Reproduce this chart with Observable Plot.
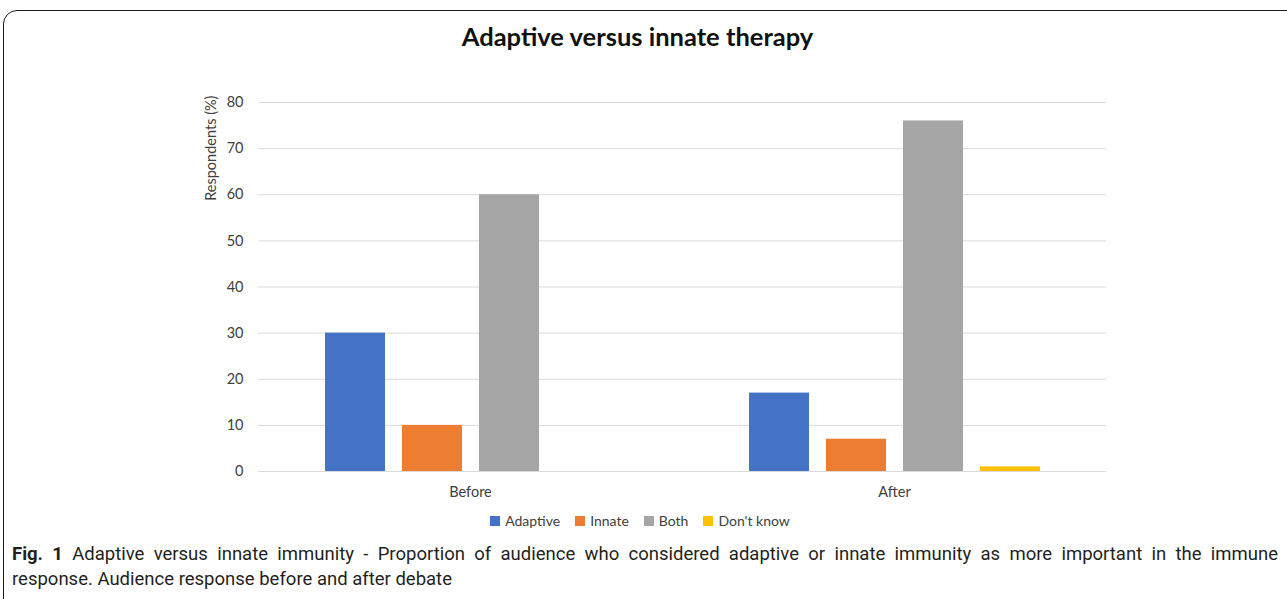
<!DOCTYPE html>
<html>
<head>
<meta charset="utf-8">
<script src="https://cdn.jsdelivr.net/npm/d3@7"></script>
<script src="https://cdn.jsdelivr.net/npm/@observablehq/plot@0.6"></script>
<style>
  html, body { margin: 0; padding: 0; background: #fff; width: 1287px; height: 599px; overflow: hidden; }
  body { position: relative; font-family: Lato, "Open Sans", sans-serif; }
  #frame { position: absolute; left: 3px; top: 10px; width: 1320px; height: 620px; border: 1.5px solid #1a1a1a; border-radius: 14px; box-sizing: border-box; }
  #title { position: absolute; left: 0; width: 1275px; top: 21px; text-align: center; font-family: Lato, sans-serif; font-weight: 700; font-size: 25.5px; color: #111; }
  #chart { position: absolute; left: 0; top: 60px; }
  #legend { position: absolute; left: 0; width: 1280px; top: 512px; display: flex; justify-content: center; font-family: Lato, sans-serif; font-size: 14px; color: #404040; }
  .item { display: flex; align-items: center; margin-right: 15px; }
  .item:last-child { margin-right: 0; }
  .sw { width: 10px; height: 10px; margin-right: 5px; }
  .cap { position: absolute; left: 12px; width: 1266px; font-family: Roboto, sans-serif; font-size: 18.5px; color: #231f20; white-space: nowrap; }
  #cap1 { top: 543px; text-align: justify; text-align-last: justify; }
  #cap2 { top: 568px; }
</style>
</head>
<body>
<div id="frame"></div>
<div id="title">Adaptive versus innate therapy</div>
<div id="chart"></div>
<div id="legend"></div>
<div class="cap" id="cap1"><b>Fig. 1</b> Adaptive versus innate immunity - Proportion of audience who considered adaptive or innate immunity as more important in the immune</div>
<div class="cap" id="cap2">response. Audience response before and after debate</div>
<script>
const groups = ["Before", "After"];
const categories = ["Adaptive", "Innate", "Both", "Don't know"];
const beforeValues = [30, 10, 60, 0];
const afterValues = [17, 7, 76, 1];
const colors = ["#4472C4", "#ED7D31", "#A5A5A5", "#FFC000"];
const yTicks = [0, 10, 20, 30, 40, 50, 60, 70, 80];
const yLabel = "Respondents (%)";

const data = [];
categories.forEach((c, i) => data.push({group: groups[0], cat: c, value: beforeValues[i]}));
categories.forEach((c, i) => data.push({group: groups[1], cat: c, value: afterValues[i]}));

const plot = Plot.plot({
  width: 1287,
  height: 446,
  marginLeft: 258,
  marginRight: 181,
  marginTop: 42,
  marginBottom: 35,
  style: {fontFamily: "Lato, sans-serif", fontSize: "14px", color: "#595959", background: "transparent"},
  fx: {domain: groups, padding: 0, label: null},
  x: {domain: categories, paddingInner: 0.2208, paddingOuter: 0.8636, axis: null},
  y: {domain: [0, 80], label: null},
  color: {domain: categories, range: colors},
  marks: [
    Plot.gridY(yTicks, {stroke: "#d9d9d9", strokeOpacity: 1, strokeWidth: 1}),
    Plot.barY(data, {fx: "group", x: "cat", y: "value", fill: "cat"}),
    Plot.axisY(yTicks, {tickSize: 0, tickPadding: 15, label: null, fill: "#404040", fontSize: 14.5}),
    Plot.axisFx({anchor: "bottom", tickSize: 0, tickPadding: 15, label: null, fill: "#404040", fontSize: 14.5}),
    Plot.text([yLabel], {frameAnchor: "top-left", text: d => d, rotate: -90, textAnchor: "end", dx: -53, dy: -7, fill: "#404040", fontSize: 14.5, facet: "super"})
  ]
});
document.getElementById("chart").appendChild(plot);

const legend = document.getElementById("legend");
categories.forEach((c, i) => {
  const item = document.createElement("div");
  item.className = "item";
  const sw = document.createElement("div");
  sw.className = "sw";
  sw.style.background = colors[i];
  const t = document.createElement("span");
  t.textContent = c;
  item.appendChild(sw);
  item.appendChild(t);
  legend.appendChild(item);
});
</script>
</body>
</html>
